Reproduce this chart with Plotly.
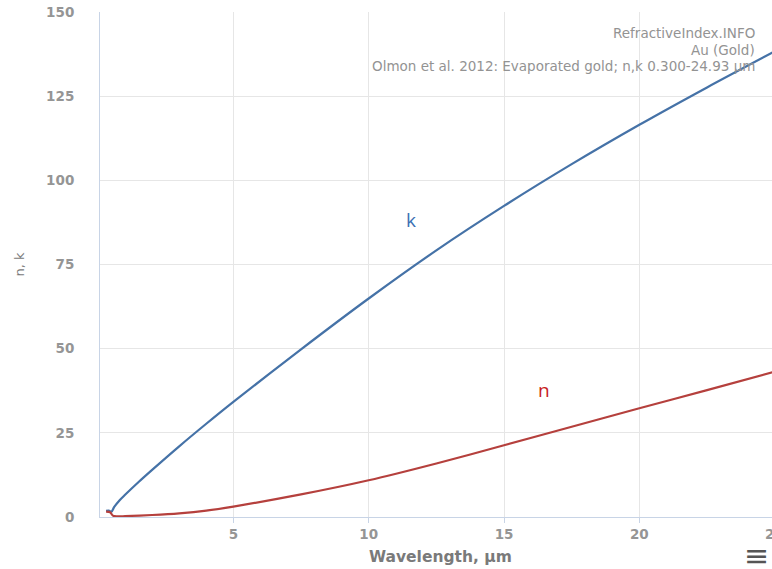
import plotly.graph_objects as go

# Olmon et al. 2012, evaporated gold: complex refractive index n + ik
wavelength_k = [0.30, 0.40, 0.50, 0.60, 0.80, 1.0, 1.5, 2.0, 3.0, 4.0, 5.0, 7.5,
                10.0, 12.5, 15.0, 17.5, 20.0, 22.5, 24.93]
k_values = [1.8, 1.9, 1.6, 3.0, 5.0, 6.6, 10.4, 14.0, 21.0, 27.7, 34.2, 49.8,
            64.9, 79.2, 92.4, 104.8, 116.5, 127.6, 138.0]

wavelength_n = [0.30, 0.45, 0.55, 0.70, 1.0, 2.0, 3.0, 4.0, 5.0, 7.5, 10.0, 12.5,
                15.0, 17.5, 20.0, 22.5, 24.93]
n_values = [1.6, 1.4, 0.4, 0.2, 0.25, 0.6, 1.1, 1.9, 3.1, 6.7, 10.9, 15.9,
            21.3, 26.8, 32.3, 37.7, 43.0]

x_ticks = [5, 10, 15, 20]
y_ticks = [0, 25, 50, 75, 100, 125, 150]
header_lines = ["RefractiveIndex.INFO", "Au (Gold)",
                "Olmon et al. 2012: Evaporated gold; n,k 0.300-24.93 μm"]

K_COLOR = "#4572a7"
N_COLOR = "#b5403d"
GRID = "#e6e6e6"
AXIS = "#c8d4e6"
TICK_FONT = dict(family="DejaVu Sans", size=13.5, color="#959595", weight="bold")

fig = go.Figure()
fig.add_trace(go.Scatter(x=wavelength_k, y=k_values, mode="lines", name="k",
                         line=dict(color=K_COLOR, width=2.2, shape="spline", smoothing=0.8),
                         showlegend=False))
fig.add_trace(go.Scatter(x=wavelength_n, y=n_values, mode="lines", name="n",
                         line=dict(color=N_COLOR, width=2.2, shape="spline", smoothing=0.8),
                         showlegend=False))

fig.update_xaxes(range=[0.074, 24.90], tickvals=x_ticks, ticktext=[str(v) for v in x_ticks],
                 showgrid=True, gridcolor=GRID, gridwidth=1, zeroline=False,
                 showline=True, linecolor=AXIS, linewidth=1,
                 ticks="outside", ticklen=5, tickcolor=AXIS,
                 tickfont=TICK_FONT)
fig.update_yaxes(range=[0, 150], tickvals=y_ticks, ticktext=[str(v) for v in y_ticks],
                 showgrid=True, gridcolor=GRID, gridwidth=1, zeroline=False,
                 showline=True, linecolor=AXIS, linewidth=1,
                 ticks="", ticklabelstandoff=22,
                 tickfont=TICK_FONT,
                 title=dict(text="n, k", standoff=18,
                            font=dict(family="DejaVu Sans", size=13, color="#7a7a7a")))

annotations = []
for i, line in enumerate(header_lines):
    annotations.append(dict(text=line, xref="paper", yref="paper", x=0.978, y=1,
                            yshift=-21 - 16.5 * i, xanchor="right", yanchor="middle",
                            showarrow=False,
                            font=dict(family="DejaVu Sans", size=13.5, color="#939393")))
annotations += [
    dict(text="k", xref="x", yref="y", x=11.56, y=88.3, showarrow=False,
         font=dict(family="Open Sans", size=19, color="#3d6fb3")),
    dict(text="n", xref="x", yref="y", x=16.48, y=37.7, showarrow=False,
         font=dict(family="Open Sans", size=19, color="#c81e1e")),
    # last tick label sits just past the plotted range
    dict(text="25", xref="paper", yref="paper", x=1.0039, y=0, yshift=-17,
         xanchor="center", yanchor="middle", showarrow=False, font=TICK_FONT),
    # axis title, centred under the full (wider) plotting area
    dict(text="<b>Wavelength, μm</b>", xref="paper", yref="paper", x=0.506, y=0,
         yshift=-40, xanchor="center", yanchor="middle", showarrow=False,
         font=dict(family="DejaVu Sans", size=15.5, color="#7a7a7a")),
    dict(text="≡", xref="paper", yref="paper", x=1.0, y=0, yshift=-38, xshift=-1,
         xanchor="right", yanchor="middle", showarrow=False,
         font=dict(family="DejaVu Sans", size=30, color="#555555")),
]

fig.update_layout(width=772, height=569, margin=dict(l=100, r=0, t=12, b=52),
                  paper_bgcolor="white", plot_bgcolor="white",
                  annotations=annotations)

fig.write_html("out.html")
